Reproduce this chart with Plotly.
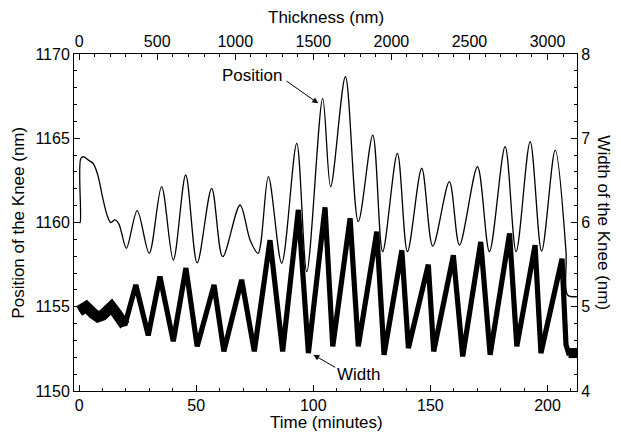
import plotly.graph_objects as go

# Position of the knee (left axis): time (min) / nm
pos_time = [0.0, 0.4, 0.7, 2.0, 4.0, 6.0, 8.0, 10.0, 12.0, 13.5, 15.3, 17.0, 18.0,
            20.2, 24.8, 29.9, 35.2, 40.2, 45.5, 50.4, 56.6, 61.3, 68.7, 73.0,
            76.4, 80.8, 86.5, 92.9, 97.2, 104.0, 107.4, 113.7, 119.2, 125.4,
            129.6, 135.9, 140.2, 146.3, 151.0, 158.1, 162.4, 170.1, 175.2,
            181.9, 186.6, 192.6, 197.5, 203.3, 207.9, 208.6, 212.6]
pos_nm = [1160.0, 1160.0, 1163.8, 1163.9, 1163.7, 1163.5, 1162.8, 1161.5, 1160.4,
          1160.0, 1160.15, 1159.9, 1159.45, 1158.47, 1160.7, 1158.17, 1162.13,
          1157.77, 1162.82, 1157.6, 1162.03, 1157.97, 1161.04, 1158.96, 1158.17,
          1162.72, 1157.58, 1164.7, 1157.08, 1167.37, 1162.13, 1168.65, 1160.05,
          1165.19, 1158.27, 1164.1, 1158.27, 1163.22, 1158.6, 1162.42, 1158.66,
          1163.31, 1158.27, 1164.5, 1158.27, 1164.8, 1158.3, 1164.3, 1158.27,
          1155.7, 1155.6]

# Width of the knee (right axis): time (min) / nm
width_time = [0.0, 3.0, 6.0, 8.0, 10.0, 13.8, 16.0, 19.5, 24.2, 29.5, 34.5, 40.2,
              45.6, 50.4, 57.6, 61.8, 69.4, 74.8, 81.5, 86.9, 93.6, 97.9, 105.0,
              108.3, 115.7, 119.2, 127.1, 130.2, 137.8, 140.6, 149.1, 151.4,
              159.8, 163.8, 171.5, 175.5, 183.8, 186.9, 194.7, 197.2, 206.2,
              207.9, 209.0, 212.6]
width_nm = [4.95, 5.0, 4.92, 4.88, 4.9, 5.0, 4.92, 4.78, 5.26, 4.66, 5.36, 4.59,
            5.46, 4.53, 5.26, 4.47, 5.32, 4.47, 5.79, 4.47, 6.15, 4.45, 6.18,
            4.53, 6.05, 4.53, 5.89, 4.43, 5.67, 4.51, 5.5, 4.47, 5.61, 4.41,
            5.77, 4.43, 5.87, 4.53, 5.73, 4.45, 5.57, 4.55, 4.45, 4.45]

# top axis extent (thickness, nm)
thickness_span = [0, 3000]

FONT = "Liberation Sans, Arial, sans-serif"

fig = go.Figure()
fig.add_trace(go.Scatter(x=pos_time, y=pos_nm, mode="lines",
                         line=dict(color="black", width=1.3, shape="spline", smoothing=0.9),
                         xaxis="x", yaxis="y", showlegend=False))
fig.add_trace(go.Scatter(x=width_time, y=width_nm, mode="lines",
                         line=dict(color="black", width=5.2),
                         xaxis="x", yaxis="y2", showlegend=False))
# the noisy start and end of the width trace look like a wide band
fig.add_trace(go.Scatter(x=width_time[:8], y=width_nm[:8], mode="lines",
                         line=dict(color="black", width=11),
                         xaxis="x", yaxis="y2", showlegend=False))
fig.add_trace(go.Scatter(x=width_time[-2:], y=width_nm[-2:], mode="lines",
                         line=dict(color="black", width=10),
                         xaxis="x", yaxis="y2", showlegend=False))
fig.add_trace(go.Scatter(x=thickness_span, y=[1150, 1150], mode="lines",
                         line=dict(color="rgba(0,0,0,0)"), hoverinfo="skip",
                         xaxis="x2", yaxis="y", showlegend=False))

common = dict(showline=True, linecolor="black", linewidth=1, showgrid=False,
              zeroline=False, ticks="inside", ticklen=6, tickcolor="black",
              tickfont=dict(size=16, color="black", family=FONT))

fig.update_layout(
    width=621, height=436,
    margin=dict(l=66, r=52, t=46, b=53),
    paper_bgcolor="white", plot_bgcolor="white",
    font=dict(family=FONT, color="black"),
    xaxis=dict(range=[-2.2, 212.6], tick0=0, dtick=50,
               minor=dict(dtick=10, ticklen=3, ticks="inside", tickcolor="black"), **common),
    xaxis2=dict(range=[-33, 3189], tick0=0, dtick=500, overlaying="x", side="top",
                minor=dict(dtick=100, ticklen=3, ticks="inside", tickcolor="black"), **common),
    yaxis=dict(range=[1150, 1170], tick0=1150, dtick=5,
               minor=dict(dtick=1, ticklen=3, ticks="inside", tickcolor="black"), **common),
    yaxis2=dict(range=[4, 8], tick0=4, dtick=1, overlaying="y", side="right",
                minor=dict(dtick=0.2, ticklen=3, ticks="inside", tickcolor="black"), **common),
)

title_font = dict(size=17, color="black", family=FONT)
centre = dict(xanchor="center", yanchor="middle", showarrow=False, font=title_font)
fig.add_annotation(text="Time (minutes)", xref="paper", yref="paper", x=0.501, y=-0.092, **centre)
fig.add_annotation(text="Thickness (nm)", xref="paper", yref="paper", x=0.501, y=1.107, **centre)
fig.add_annotation(text="Position of the Knee (nm)", xref="paper", yref="paper", x=-0.111,
                   y=0.5, textangle=-90, **centre)
fig.add_annotation(text="Width of the Knee (nm)", xref="paper", yref="paper", x=1.052,
                   y=0.5, textangle=90, **centre)

# labels with arrows
fig.add_annotation(text="Position", x=73.8, y=1168.75, xref="x", yref="y", **centre)
fig.add_annotation(text="", x=102.1, y=1167.07, ax=87.9, ay=1168.46, xref="x", yref="y",
                   axref="x", ayref="y", showarrow=True, arrowhead=2, arrowsize=1.2,
                   arrowwidth=1, arrowcolor="black")
fig.add_annotation(text="Width", x=119.5, y=4.2, xref="x", yref="y2", **centre)
fig.add_annotation(text="", x=100.0, y=4.43, ax=110.0, ay=4.27, xref="x", yref="y2",
                   axref="x", ayref="y2", showarrow=True, arrowhead=2, arrowsize=1.2,
                   arrowwidth=1, arrowcolor="black")

fig.write_html("out.html")
